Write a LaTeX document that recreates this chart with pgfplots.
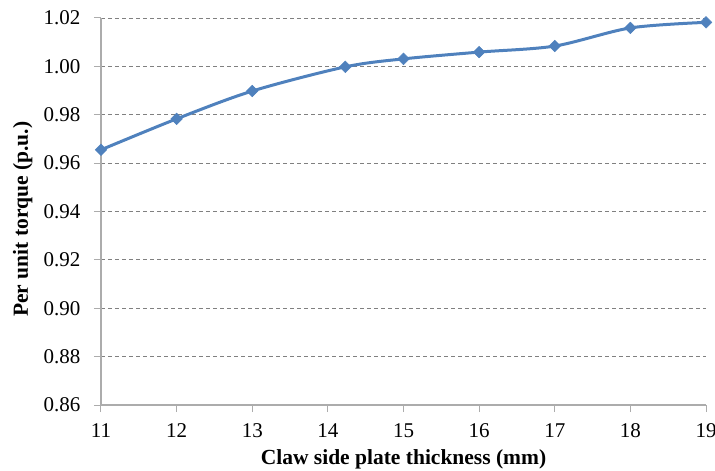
\documentclass[border=0pt]{standalone}
\usepackage{fontspec}
\setmainfont{Liberation Serif}
\usepackage{pgfplots}
\pgfplotsset{compat=1.18}
\definecolor{xlblue}{HTML}{4F81BD}

\begin{document}
\begin{tikzpicture}
\begin{axis}[
  scale only axis, width=605pt, height=387pt,
  xmin=11, xmax=19, ymin=0.86, ymax=1.02,
  xtick={11,...,19}, ytick={0.86,0.88,...,1.021},
  axis x line*=bottom, axis y line*=left,
  axis line style={gray!65, line width=1.2pt, -},
  tick style={gray!65, line width=1pt},
  tick align=outside, major tick length=7pt,
  ymajorgrids, grid style={dash pattern=on 4pt off 3pt, gray, line width=0.9pt},
  yticklabel style={xshift=-10pt, /pgf/number format/.cd, fixed, fixed zerofill, precision=2},
  /pgf/number format/assume math mode=true,
  ticklabel style={font=\fontsize{21}{24}\selectfont},
  xticklabel style={yshift=-8pt},
  xlabel={\textbf{Claw side plate thickness (mm)}},
  ylabel={\textbf{Per unit torque (p.u.)}},
  label style={font=\fontsize{21.5}{24}\selectfont},
  xlabel style={at={(axis description cs:0.5,-0.155)}, anchor=base},
  ylabel style={at={(axis description cs:-0.121,0.48)}, anchor=base},
  clip=false,
]
\addplot[color=xlblue, line width=3pt, smooth, tension=0.5,
  mark=square*, mark size=4.1pt, mark options={fill=xlblue, line width=0.5pt, rotate=45}]
coordinates {
  (11,0.9655) (12,0.9783) (13,0.9898) (14.23,0.9998) (15,1.0031)
  (16,1.0059) (17,1.0084) (18,1.0159) (19,1.0182)
};
\coordinate (A) at (rel axis cs:0,0);
\coordinate (B) at (rel axis cs:1,1);
\end{axis}
\pgfresetboundingbox
\path[use as bounding box] ([shift={(-101pt,-65pt)}]A) rectangle ([shift={(9pt,18pt)}]B);
\end{tikzpicture}
\end{document}
